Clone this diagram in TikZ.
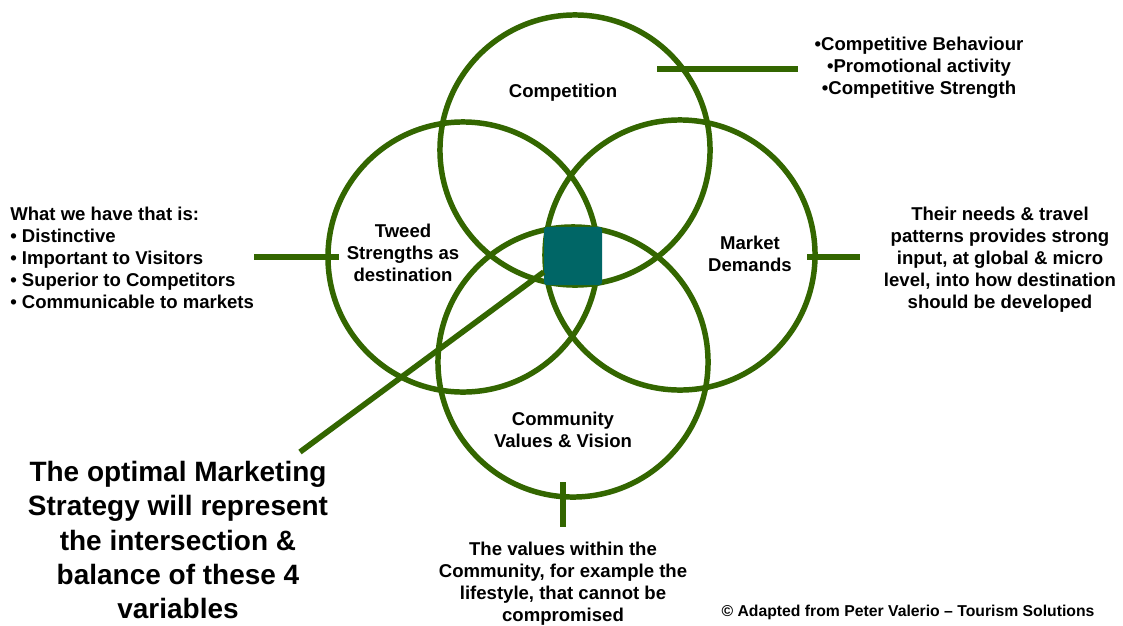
\documentclass[tikz,border=0pt]{standalone}
\usepackage{fontspec}
\setmainfont{Liberation Sans}
\usepackage{xcolor}
\usetikzlibrary{positioning}

\definecolor{venngreen}{RGB}{51,102,0}
\definecolor{hubteal}{RGB}{0,102,102}

\begin{document}
\begin{tikzpicture}[
  x=0.025cm, y=-0.025cm,
  font=\bfseries\fontsize{13.2pt}{15.7pt}\selectfont,
  lobe/.style={draw=venngreen, line width=3.9pt, circle,
               minimum size=6.75cm, inner sep=0pt},
  hub/.style={fill=hubteal, rounded corners=2pt,
              minimum size=1.45cm, inner sep=0pt},
  spoke/.style={draw=venngreen, line width=4.4pt},
  lbl/.style={align=center, inner sep=0pt},
  note/.style={align=center, inner sep=0pt}
]
  \fill[white] (0,0) rectangle (1123,625);
  \useasboundingbox (0,0) rectangle (1123,625);

  % four overlapping variables
  \node[lobe] (comp)   at (575,150) {};
  \node[lobe] (tweed)  at (463,257) {};
  \node[lobe] (market) at (680,255) {};
  \node[lobe] (comm)   at (573,362) {};

  \node[lbl] (compL)   at (563,93)  {Competition};
  \node[lbl] (tweedL)  at (403,253) {Tweed\\Strengths as\\destination};
  \node[lbl] (marketL) at (750,254) {Market\\Demands};
  \node[lbl] (commL)   at (563,430) {Community\\Values \& Vision};

  % notes around the diagram
  \node[note] (topnote) at (919,68)
    {•Competitive Behaviour\\•Promotional activity\\•Competitive Strength};
  \node[note, align=left, anchor=west] (leftnote) at (10,258)
    {What we have that is:\\• Distinctive\\• Important to Visitors\\%
     • Superior to Competitors\\• Communicable to markets};
  \node[note] (rightnote) at (1000,260)
    {Their needs \& travel\\patterns provides strong\\input, at global \& micro\\%
     level, into how destination\\should be developed};
  \node[note] (botnote) at (563,584)
    {The values within the\\Community, for example the\\lifestyle, that cannot be\\compromised};
  \node[note, font=\bfseries\fontsize{19.9pt}{24.2pt}\selectfont] (bignote) at (178,540)
    {The optimal Marketing\\Strategy will represent\\the intersection \&\\%
     balance of these 4\\variables};
  \node[note, font=\bfseries\fontsize{11.2pt}{13pt}\selectfont] (credit) at (908,612)
    {© Adapted from Peter Valerio – Tourism Solutions};

  % ticks from the circles to the notes
  \coordinate (tT) at (657,69);
  \coordinate (tL) at (339,257);
  \coordinate (tR) at (807,257);
  \coordinate (tB) at (563,482);
  \coordinate (tD) at (300,452);

  \draw[spoke, shorten >=0.4cm] (tT) -- (tT -| topnote.west);
  \draw[spoke] (leftnote.east |- tL) -- (tL);
  \draw[spoke, shorten >=0.6cm] (tR) -- (tR -| rightnote.west);
  \draw[spoke, shorten >=0.37cm] (tB) -- (tB |- botnote.north);

  % the common ground
  \node[hub] (core) at (573,256) {};
  \draw[spoke, line width=4pt] (tD) -- ([yshift=-0.4cm]core.west);
\end{tikzpicture}
\end{document}
